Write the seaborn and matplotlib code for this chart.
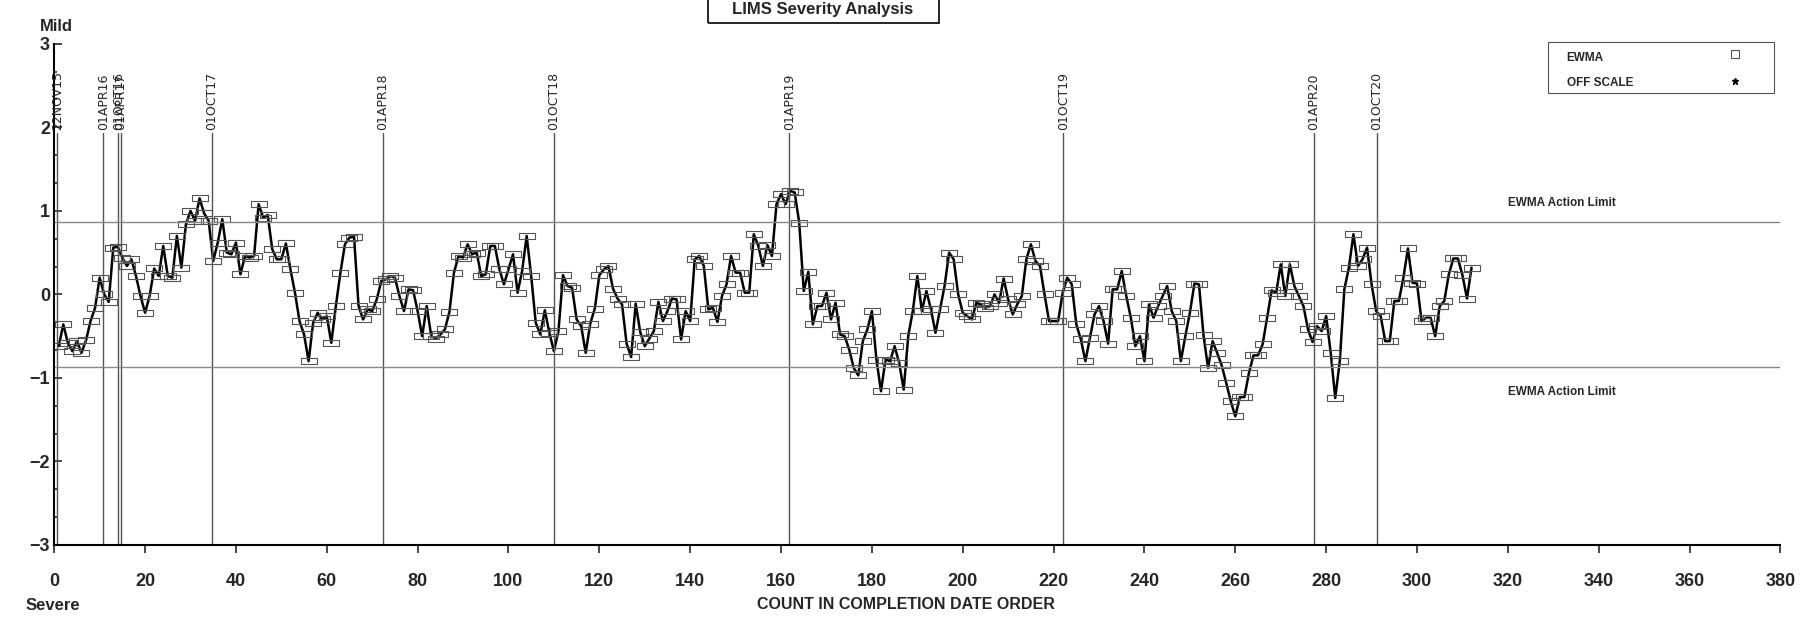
import matplotlib
matplotlib.use('Agg')
import matplotlib.pyplot as plt
from matplotlib.lines import Line2D
from matplotlib.patches import Rectangle
from matplotlib.ticker import MultipleLocator
import numpy as np
import pandas as pd
import seaborn as sns

# EWMA severity in completion-date order
ewma = [
    -0.62, -0.36, -0.58, -0.68, -0.56, -0.70, -0.55, -0.32, -0.16, 0.20,
    0.00, -0.09, 0.56, 0.57, 0.44, 0.34, 0.42, 0.22, -0.02, -0.22,
    -0.02, 0.31, 0.22, 0.58, 0.22, 0.20, 0.70, 0.32, 0.84, 1.00,
    0.88, 1.15, 0.97, 0.88, 0.40,
    0.62, 0.90, 0.50, 0.48, 0.62, 0.24, 0.46, 0.44, 0.46, 1.08,
    0.92, 0.95, 0.54, 0.42, 0.42, 0.61, 0.30, 0.02, -0.32, -0.48,
    -0.80, -0.34, -0.22, -0.30, -0.26, -0.58, -0.14, 0.26, 0.60, 0.68,
    0.69, -0.14, -0.30, -0.18, -0.20,
    -0.06, 0.16, 0.18, 0.22, 0.20, -0.02, -0.20, 0.06, 0.05, -0.20,
    -0.50, -0.14, -0.50, -0.53, -0.48, -0.42, -0.21, 0.26, 0.46, 0.44,
    0.60, 0.48, 0.50, 0.22, 0.24, 0.58, 0.58, 0.30, 0.12, 0.30,
    0.48, 0.02, 0.28, 0.70, 0.22,
    -0.34, -0.48, -0.19, -0.46, -0.68, -0.44, 0.23, 0.10, 0.08, -0.30,
    -0.38, -0.70, -0.35, -0.17, 0.23, 0.30, 0.34, 0.07, -0.05, -0.12,
    -0.59, -0.75, -0.11, -0.45, -0.62, -0.53, -0.44, -0.09, -0.32, -0.20,
    -0.05, -0.06, -0.54, -0.20, -0.32,
    0.42, 0.46, 0.34, -0.18, -0.16, -0.33, -0.02, 0.12, 0.46, 0.26,
    0.26, 0.02, 0.02, 0.72, 0.58, 0.34, 0.59, 0.46, 1.08, 1.20,
    1.08, 1.24, 1.22, 0.86, 0.04, 0.27, -0.36, -0.14, -0.14, 0.02,
    -0.30, -0.10, -0.48, -0.50, -0.66,
    -0.88, -0.97, -0.56, -0.42, -0.20, -0.78, -1.16, -0.78, -0.80, -0.62,
    -0.82, -1.14, -0.50, -0.20, 0.22, -0.20, 0.04, -0.18, -0.46, -0.18,
    0.10, 0.50, 0.42, 0.00, -0.22, -0.26, -0.30, -0.10, -0.12, -0.16,
    -0.14, 0.00, -0.10, 0.19, -0.06,
    -0.24, -0.12, -0.02, 0.42, 0.60, 0.40, 0.34, 0.00, -0.32, -0.32,
    -0.32, 0.02, 0.20, 0.12, -0.36, -0.54, -0.80, -0.52, -0.24, -0.14,
    -0.32, -0.59, 0.06, 0.06, 0.28, -0.02, -0.28, -0.62, -0.50, -0.80,
    -0.12, -0.28, -0.14, -0.02, 0.10,
    -0.20, -0.32, -0.80, -0.50, -0.22, 0.13, 0.12, -0.49, -0.88, -0.56,
    -0.70, -0.85, -1.06, -1.28, -1.46, -1.23, -1.23, -0.94, -0.73, -0.73,
    -0.60, -0.28, 0.05, 0.02, 0.36, -0.02, 0.36, 0.10, -0.02, -0.14,
    -0.42, -0.57, -0.38, -0.44, -0.26,
    -0.70, -1.24, -0.80, 0.06, 0.32, 0.72, 0.34, 0.42, 0.56, 0.12,
    -0.20, -0.26, -0.56, -0.56, -0.08, -0.08, 0.20, 0.55, 0.14, 0.13,
    -0.32, -0.28, -0.28, -0.50, -0.14, -0.08, 0.24, 0.43, 0.43, 0.23,
    -0.05, 0.32,
]
count = np.arange(1, len(ewma) + 1)

date_labels = ['22NOV15', '01APR16', '01OCT16', '01APR17', '01OCT17', '01APR18',
               '01OCT18', '01APR19', '01OCT19', '01APR20', '01OCT20']
date_counts = [0.7, 10.8, 14.1, 14.6, 34.7, 72.3, 110.0, 161.8, 222.1, 277.3, 291.1]
action_limit = 0.866
x_ticks = list(range(0, 381, 20))
y_ticks = [-3, -2, -1, 0, 1, 2, 3]

sns.set_style('ticks')
plt.rcParams['font.family'] = ['Liberation Sans', 'DejaVu Sans']

fig = plt.figure(figsize=(18.07, 6.2), dpi=100)
ax = fig.add_axes([0.030, 0.121, 0.9553, 0.8084])

df = pd.DataFrame({'count': count, 'ewma': ewma})
box = [(-1, -0.4), (1, -0.4), (1, 0.4), (-1, 0.4), (-1, -0.4)]
sns.lineplot(data=df, x='count', y='ewma', color='black', lw=1.8,
             marker=box, markersize=11, markerfacecolor='none',
             markeredgecolor='#555555', markeredgewidth=0.8, ax=ax)

# date reference lines
for lab, c in zip(date_labels, date_counts):
    ax.plot([c, c], [-3, 1.93], color='#555555', lw=1)
    ax.text(c, 1.97, lab, rotation=90, ha='center', va='bottom', fontsize=9,
            family='DejaVu Sans')

ax.axhline(action_limit, color='#888888', lw=1)
ax.axhline(-action_limit, color='#888888', lw=1)
ax.text(320, 1.09, 'EWMA Action Limit', va='center', fontsize=8.5, fontweight='bold')
ax.text(320, -1.17, 'EWMA Action Limit', va='center', fontsize=8.5, fontweight='bold')

ax.set_xlim(0, 380)
ax.set_ylim(-3, 3)
ax.set_xticks(x_ticks)
ax.set_yticks(y_ticks)
ax.yaxis.set_minor_locator(MultipleLocator(1 / 3))
ax.tick_params(axis='x', labelsize=13, width=1.2, length=6, pad=14)
ax.tick_params(axis='y', which='both', direction='in', labelsize=13, width=1.2, pad=3)
ax.tick_params(axis='y', which='major', length=6)
for lab in ax.get_xticklabels() + ax.get_yticklabels():
    lab.set_fontweight('bold')
ax.set_xlabel('COUNT IN COMPLETION DATE ORDER', fontsize=11.5, fontweight='bold')
ax.xaxis.set_label_coords(0.4934, -0.104)
ax.set_ylabel('')
sns.despine(ax=ax)
for s in ('left', 'bottom'):
    ax.spines[s].set_linewidth(1.5)
    ax.spines[s].set_color('black')

# legend box, drawn by hand so the labels sit left and the symbols right
fig.patches.append(Rectangle((0.8565, 0.8495), 0.125, 0.0835, transform=fig.transFigure,
                             facecolor='white', edgecolor='#555555', lw=0.8))
fig.text(0.867, 0.907, 'EWMA', va='center', fontsize=8.5, fontweight='bold')
fig.text(0.867, 0.8656, 'OFF SCALE', va='center', fontsize=8.5, fontweight='bold')
fig.lines.append(Line2D([0.9601], [0.9124], transform=fig.transFigure, ls='none',
                        marker='s', markersize=6, markerfacecolor='none',
                        markeredgecolor='#555555', markeredgewidth=0.8))
fig.lines.append(Line2D([0.9601], [0.8698], transform=fig.transFigure, ls='none',
                        marker='*', markersize=5, color='black'))

fig.text(0.031, 0.958, 'Mild', ha='center', va='center', fontsize=12, fontweight='bold')
fig.text(0.029, 0.023, 'Severe', ha='center', va='center', fontsize=12, fontweight='bold')

# boxed title at the top edge
fig.patches.append(Rectangle((0.3918, 0.9629), 0.1278, 0.06, transform=fig.transFigure,
                             fill=False, edgecolor='black', lw=1.2))
fig.text(0.4551, 0.9774, 'LIMS Severity Analysis', ha='center', va='baseline',
         fontsize=12, fontweight='bold')

fig.savefig('out.png', dpi=100)
